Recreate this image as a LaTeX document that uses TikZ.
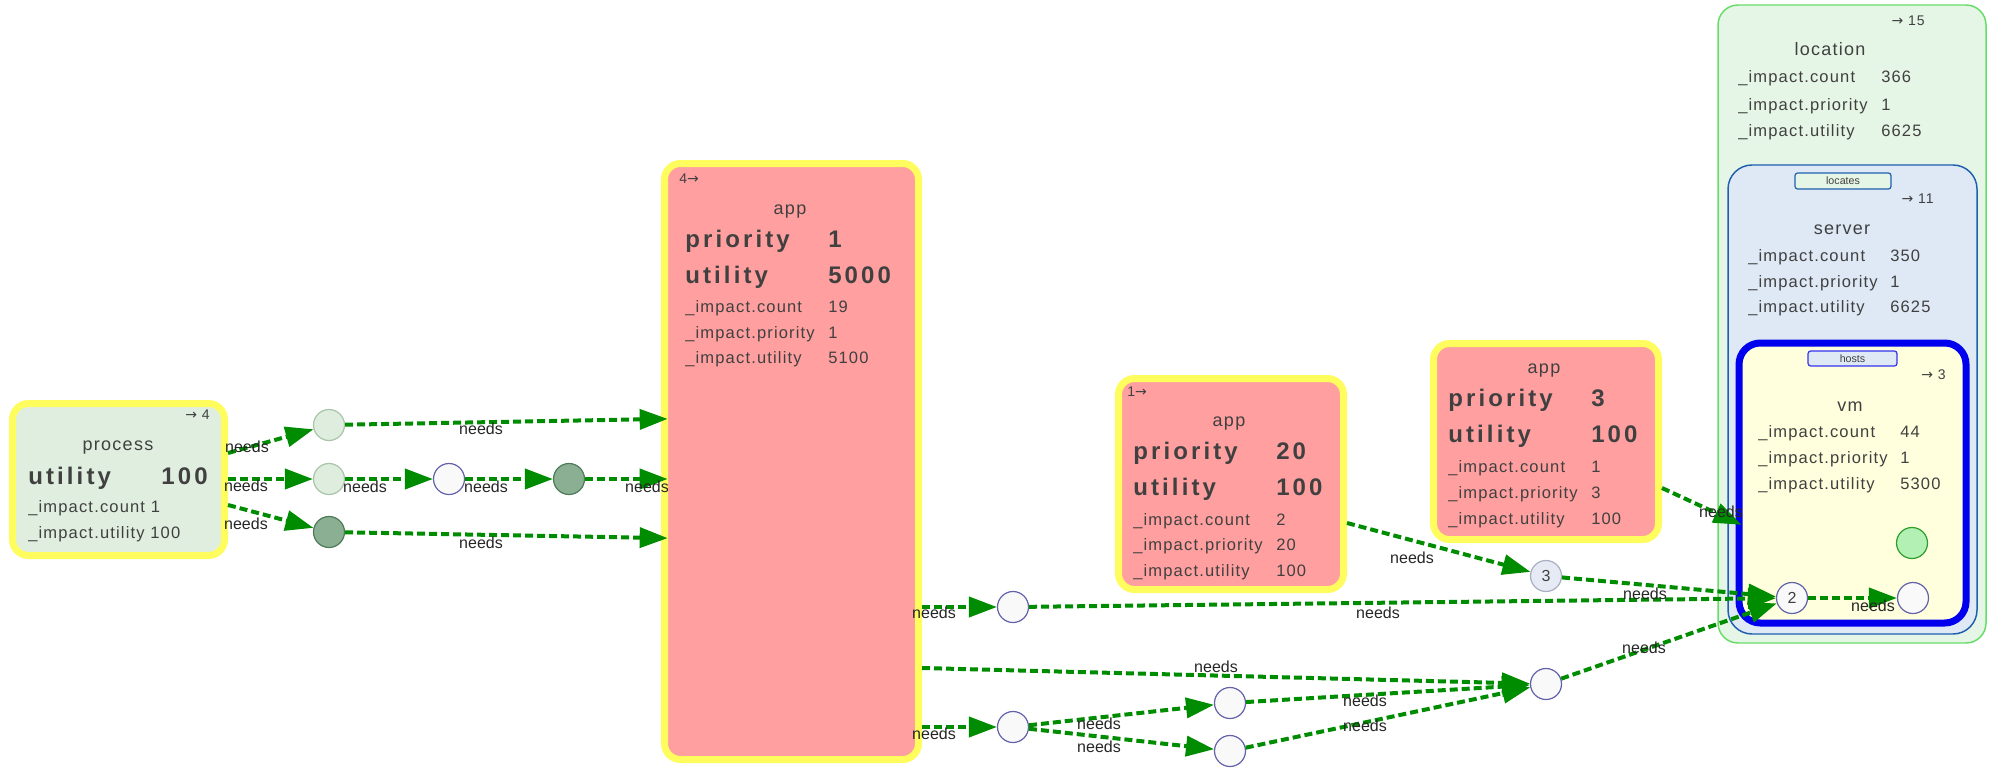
\documentclass[tikz,border=0pt]{standalone}
\usepackage{fontspec}
\setmainfont{Liberation Sans}
\newfontfamily\lsf[LetterSpace=7]{Liberation Sans}
\newfontfamily\lsb[LetterSpace=13]{Liberation Sans}
\newfontfamily\arrf{DejaVu Sans}
\usetikzlibrary{arrows.meta}
\definecolor{tgray}{HTML}{404040}
\definecolor{appfill}{HTML}{FF9F9F}
\definecolor{ybord}{HTML}{FFFC5E}
\definecolor{procfill}{HTML}{DFEEDF}
\definecolor{edgec}{HTML}{008C00}
\definecolor{locfill}{HTML}{E6F6E6}
\definecolor{locdraw}{HTML}{66DD66}
\definecolor{srvfill}{HTML}{DEE9F5}
\definecolor{srvdraw}{HTML}{1F5FAF}
\definecolor{vmfill}{HTML}{FFFFDD}
\definecolor{vmdraw}{HTML}{0000EE}
\definecolor{lightc}{HTML}{DEEDDE}
\definecolor{lightcd}{HTML}{AAC4AA}
\definecolor{darkc}{HTML}{8AAF93}
\definecolor{darkcd}{HTML}{4E7A59}
\definecolor{whitec}{HTML}{F9F9F9}
\definecolor{whitecd}{HTML}{6262AA}
\definecolor{grayc}{HTML}{E6EAF4}
\definecolor{graycd}{HTML}{A8AFC0}
\definecolor{greenc}{HTML}{B3F0B3}
\definecolor{greencd}{HTML}{2E9E2E}
\begin{document}
\begin{tikzpicture}[x=0.75pt,y=-0.75pt,
  ybox/.style={draw=ybord, line width=5.25pt, rounded corners=12pt, inner sep=0pt},
  procbox/.style={ybox, fill=procfill},
  appbox/.style={ybox, fill=appfill},
  sm/.style={inner sep=0pt, text=tgray, font=\lsf\fontsize{12.4}{14}\selectfont, anchor=base west},
  ttl/.style={inner sep=0pt, text=tgray, font=\lsf\fontsize{13.5}{16}\selectfont, anchor=base},
  big/.style={inner sep=0pt, text=tgray, font=\lsb\bfseries\fontsize{18}{20}\selectfont, anchor=base west},
  cnt/.style={inner sep=0pt, text=tgray, font=\lsf\fontsize{10.5}{12}\selectfont, anchor=base east},
  cntl/.style={cnt, anchor=base west},
  tab/.style={inner sep=0pt, rounded corners=2pt, line width=0.9pt, text=tgray, font=\fontsize{8}{9}\selectfont},
  circ/.style={circle, minimum size=23.25pt, inner sep=0pt, line width=0.9pt, text=tgray, font=\fontsize{12}{14}\selectfont},
  lightcirc/.style={circ, draw=lightcd, fill=lightc},
  darkcirc/.style={circ, draw=darkcd, fill=darkc},
  whitecirc/.style={circ, draw=whitecd, fill=whitec},
  needs/.style={draw=edgec, line width=3pt, dash pattern=on 6pt off 3pt, -{Triangle[length=21pt,width=15pt]}},
  into/.style={shorten >=-5pt},
  lbl/.style={inner sep=0pt, text=black!85, font=\fontsize{12}{14}\selectfont}
]
\useasboundingbox (0,0) rectangle (1994,767);

% ---------- containers on the right ----------
\node[draw=locdraw, fill=locfill, line width=1.1pt, rounded corners=15pt,
      minimum width=201pt, minimum height=478.5pt, inner sep=0pt] (loc) at (1852,324) {};
\node[cnt] at (1925,26) {{\arrf→} 15};
\node[ttl] at (1830,56) {location};
\node[sm] at (1738,83) {\_impact.count};    \node[sm] at (1881,83) {366};
\node[sm] at (1738,110) {\_impact.priority}; \node[sm] at (1881,110) {1};
\node[sm] at (1738,136) {\_impact.utility};  \node[sm] at (1881,136) {6625};

\node[draw=srvdraw, fill=srvfill, line width=1.1pt, rounded corners=18pt,
      minimum width=186.75pt, minimum height=351.75pt, inner sep=0pt] (srv) at (1852.5,399.5) {};
\node[tab, draw=srvdraw, fill=locfill, minimum width=72pt, minimum height=12pt] (loctab) at (1843,181) {locates};
\node[cnt] at (1934,203) {{\arrf→} 11};
\node[ttl] at (1842,234) {server};
\node[sm] at (1748,261) {\_impact.count};    \node[sm] at (1890,261) {350};
\node[sm] at (1748,287) {\_impact.priority}; \node[sm] at (1890,287) {1};
\node[sm] at (1748,312) {\_impact.utility};  \node[sm] at (1890,312) {6625};

\node[draw=vmdraw, fill=vmfill, line width=5.25pt, rounded corners=16pt,
      minimum width=170.25pt, minimum height=210pt, inner sep=0pt] (vm) at (1852.5,483) {};
\node[tab, draw=vmdraw!80, fill=srvfill, minimum width=66.75pt, minimum height=11.25pt] (hosttab) at (1852.5,358.5) {hosts};
\node[cnt] at (1946,379) {{\arrf→} 3};
\node[ttl] at (1850,411) {vm};
\node[sm] at (1758,437) {\_impact.count};    \node[sm] at (1900,437) {44};
\node[sm] at (1758,463) {\_impact.priority}; \node[sm] at (1900,463) {1};
\node[sm] at (1758,489) {\_impact.utility};  \node[sm] at (1900,489) {5300};

% ---------- process ----------
\node[procbox, minimum width=159pt, minimum height=114pt] (proc) at (118.5,479.5) {};
\node[cnt] at (210,419) {{\arrf→} 4};
\node[ttl] at (118,450) {process};
\node[big] at (28,484) {utility};
\node[big, anchor=base east] at (208,484) {100};
\node[sm] at (28,512) {\_impact.count 1};
\node[sm] at (28,538) {\_impact.utility 100};

% ---------- app 1 ----------
\node[appbox, minimum width=190.5pt, minimum height=447pt] (app1) at (791.5,461.5) {};
\node[cntl] at (679,183) {4{\arrf→}};
\node[ttl] at (790,214) {app};
\node[big] at (685,247) {priority}; \node[big] at (828,247) {1};
\node[big] at (685,283) {utility};  \node[big] at (828,283) {5000};
\node[sm] at (685,312) {\_impact.count};    \node[sm] at (828,312) {19};
\node[sm] at (685,338) {\_impact.priority}; \node[sm] at (828,338) {1};
\node[sm] at (685,363) {\_impact.utility};  \node[sm] at (828,363) {5100};

% ---------- app 2 ----------
\node[appbox, minimum width=168.75pt, minimum height=158.25pt] (app2) at (1231,484) {};
\node[cntl] at (1127,396) {1{\arrf→}};
\node[ttl] at (1229,426) {app};
\node[big] at (1133,459) {priority}; \node[big] at (1276,459) {20};
\node[big] at (1133,495) {utility};  \node[big] at (1276,495) {100};
\node[sm] at (1133,525) {\_impact.count};    \node[sm] at (1276,525) {2};
\node[sm] at (1133,550) {\_impact.priority}; \node[sm] at (1276,550) {20};
\node[sm] at (1133,576) {\_impact.utility};  \node[sm] at (1276,576) {100};

% ---------- app 3 ----------
\node[appbox, minimum width=168.75pt, minimum height=147pt] (app3) at (1546,441.5) {};
\node[ttl] at (1544,373) {app};
\node[big] at (1448,406) {priority}; \node[big] at (1591,406) {3};
\node[big] at (1448,442) {utility};  \node[big] at (1591,442) {100};
\node[sm] at (1448,472) {\_impact.count};    \node[sm] at (1591,472) {1};
\node[sm] at (1448,498) {\_impact.priority}; \node[sm] at (1591,498) {3};
\node[sm] at (1448,524) {\_impact.utility};  \node[sm] at (1591,524) {100};

% ---------- circles ----------
\node[lightcirc] (c1) at (329,425) {};
\node[lightcirc] (c2) at (329,479) {};
\node[darkcirc]  (c3) at (329,532) {};
\node[whitecirc] (w1) at (449,479) {};
\node[darkcirc]  (d1) at (569,479) {};
\node[whitecirc] (wA) at (1013,607) {};
\node[whitecirc] (wE) at (1013,727) {};
\node[whitecirc] (cB) at (1230,703) {};
\node[whitecirc] (cC) at (1230,751) {};
\node[whitecirc] (cD) at (1546,684) {};
\node[circ, draw=graycd, fill=grayc] (three) at (1546,576) {3};
\node[whitecirc] (two) at (1792,598) {2};
\node[whitecirc] (wR) at (1913,598) {};
\node[circ, draw=greencd, fill=greenc] (gr) at (1912,543) {};

% ---------- edges ----------
\draw[needs] (proc.east |- 0,453) -- (c1) node[lbl] at (247,447) {needs};
\draw[needs] (proc.east |- 0,479) -- (c2) node[lbl] at (246,486) {needs};
\draw[needs] (proc.east |- 0,505) -- (c3) node[lbl] at (246,524) {needs};
\draw[needs, into] (c1) -- (app1.west |- 0,419) node[lbl] at (481,429) {needs};
\draw[needs] (c2) -- (w1) node[lbl] at (365,487) {needs};
\draw[needs] (w1) -- (d1) node[lbl] at (486,487) {needs};
\draw[needs, into] (d1) -- (app1.west |- 0,479) node[lbl] at (647,487) {needs};
\draw[needs, into] (c3) -- (app1.west |- 0,538) node[lbl] at (481,543) {needs};

\draw[needs] (app1.east |- 0,607) -- (wA) node[lbl] at (934,613) {needs};
\draw[needs] (wA) -- (two) node[lbl] at (1378,613) {needs};
\draw[needs] (app1.east |- 0,668) -- (cD) node[lbl] at (1216,667) {needs};
\draw[needs] (app1.east |- 0,727) -- (wE) node[lbl] at (934,734) {needs};
\draw[needs] (wE) -- (cB) node[lbl] at (1099,724) {needs};
\draw[needs] (wE) -- (cC) node[lbl] at (1099,747) {needs};
\draw[needs] (cB) -- (cD) node[lbl] at (1365,701) {needs};
\draw[needs] (cC) -- (cD) node[lbl] at (1365,726) {needs};
\draw[needs] (cD) -- (two) node[lbl] at (1644,648) {needs};
\draw[needs] (app2.east |- 0,523) -- (three) node[lbl] at (1412,558) {needs};
\draw[needs] (three) -- (two) node[lbl] at (1645,594) {needs};
\draw[needs, into] (app3.east |- 0,488) -- (vm.west |- 0,522) node[lbl] at (1721,512) {needs};
\draw[needs] (two) -- (wR) node[lbl] at (1873,606) {needs};
\end{tikzpicture}
\end{document}
